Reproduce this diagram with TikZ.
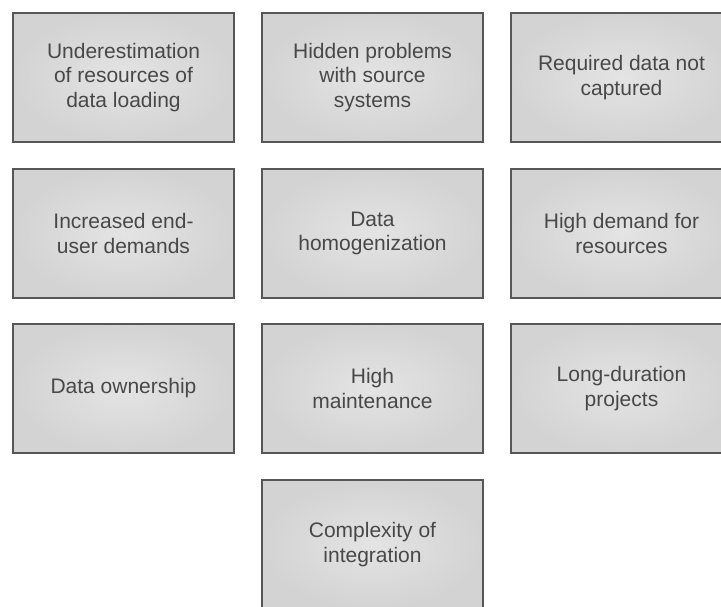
\documentclass[tikz,border=0pt]{standalone}
\usepackage{fontspec}
\setmainfont{Liberation Sans}
\definecolor{boxline}{HTML}{575757}
\definecolor{boxtext}{HTML}{484848}
\definecolor{boxin}{HTML}{E4E4E4}
\definecolor{boxout}{HTML}{D3D3D3}
\begin{document}
\begin{tikzpicture}[x=1pt,y=-1pt,
  issue/.style={draw=boxline, line width=1.6pt, inner color=boxin, outer color=boxout,
    minimum width=221pt, minimum height=129pt, inner sep=0pt, align=center,
    text=boxtext, font=\fontsize{21pt}{24.5pt}\selectfont}]
\useasboundingbox (0,0) rectangle (721,607);
\fill[white] (0,0) rectangle (721,607);
\clip (0,0) rectangle (721,607);
\node[issue] (a1) at (123.5,77.5) {Underestimation\\of resources of\\data loading};
\node[issue] (a2) at (372.5,77.5) {Hidden problems\\with source\\systems};
\node[issue] (a3) at (621.5,77.5) {Required data not\\captured};
\node[issue] (b1) at (123.5,233.5) {Increased end-\\user demands};
\node[issue] (b2) at (372.5,233.5) {Data\\homogenization};
\node[issue] (b3) at (621.5,233.5) {High demand for\\resources};
\node[issue] (c1) at (123.5,388.5) {Data ownership};
\node[issue] (c2) at (372.5,388.5) {High\\maintenance};
\node[issue] (c3) at (621.5,388.5) {Long-duration\\projects};
\node[issue] (d2) at (372.5,544.5) {Complexity of\\integration};
\end{tikzpicture}
\end{document}
